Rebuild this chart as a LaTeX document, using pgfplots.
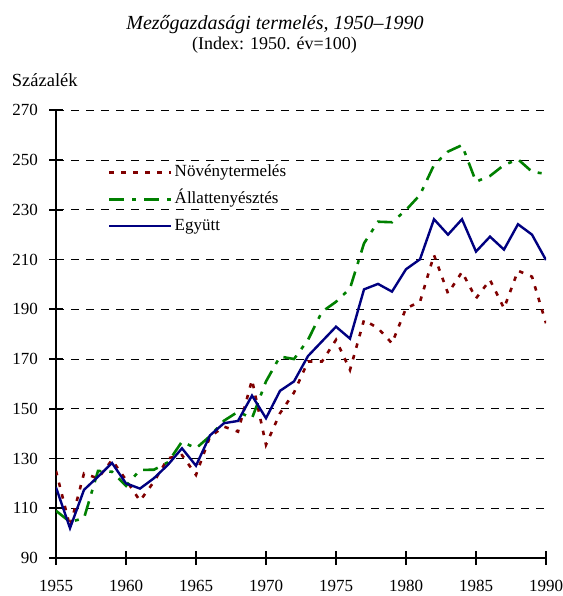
\documentclass[border=0pt]{standalone}
\usepackage{fontspec}
\setmainfont{Liberation Serif}
\usepackage{pgfplots}
\pgfplotsset{compat=1.18}
\usepackage{pgfplotstable}
\definecolor{cred}{RGB}{128,0,0}
\definecolor{cgreen}{RGB}{0,128,0}
\definecolor{cblue}{RGB}{0,0,128}
\pgfplotstableread{
year red green blue
1955 125 109 118.4
1956 102.6 104.5 102
1957 124 106 117.4
1958 122 125 122.7
1959 129.4 124.7 128.2
1960 121.4 119 120
1961 113 125.4 117.9
1962 120.7 125.5 122.1
1963 130.1 128.5 127.5
1964 131.4 136.8 134.1
1965 123.4 134.1 127.1
1966 138.8 139 139.3
1967 142.8 145.2 144.2
1968 140.8 148.8 145.1
1969 161.6 146.2 155.3
1970 135.5 161 146.2
1971 148.2 171 157.2
1972 156.5 170 161
1973 169 177.7 171.2
1974 169 189 177.1
1975 177.7 193 183
1976 165.6 198.4 178.2
1977 185.7 216.5 198
1978 182.4 225.2 200.2
1979 176.3 225 197.1
1980 190.4 229.9 206.1
1981 193 236 210.1
1982 211.8 248 226.2
1983 196.4 253.4 220
1984 205 256 226.2
1985 194.4 241.3 213.2
1986 201.8 243.6 219.2
1987 190.4 248 214
1988 205.5 250.3 224.2
1989 203.1 245.3 220
1990 184.4 244.4 209.8
}\datatable
\begin{document}
\begin{tikzpicture}
\path[use as bounding box] (-56bp,-38bp) rectangle (507bp,558bp);
\begin{axis}[
  at={(0,0)}, anchor=south west,
  scale only axis, width=490bp, height=447.7bp,
  xmin=1955, xmax=1990, ymin=90, ymax=270,
  xtick={1955,1960,...,1990}, ytick={90,110,...,270},
  axis x line=bottom, axis y line=left,
  axis line style={-, line width=1.8bp, black},
  tick align=center, major tick length=14bp,
  major tick style={line width=1.6bp, black},
  ymajorgrids,
  major grid style={line width=0.8bp, black, dash pattern=on 7.5bp off 7.5bp},
  /pgf/number format/assume math mode=true,
  /pgf/number format/set thousands separator={},
  ticklabel style={font=\fontsize{17bp}{20bp}\selectfont},
  yticklabel style={inner sep=0pt, anchor=east, xshift=-11bp},
  xticklabel style={inner sep=0pt, anchor=north, yshift=-15bp},
  legend image code/.code={\draw[#1] (0bp,0bp) -- (62bp,0bp);},
  legend cell align=left,
  legend style={draw=none, fill=none, at={(0.106,0.88)}, anchor=north west,
    font=\fontsize{17bp}{20bp}\selectfont, row sep=11bp, inner sep=0pt,
    nodes={inner sep=0pt, text height=12bp, text depth=4bp},
    /tikz/every odd column/.append style={column sep=2bp}},
]
\addplot[cred, line width=2.6bp, dash pattern=on 4.5bp off 7.5bp] table[x=year, y=red] {\datatable};
\addlegendentry{Növénytermelés}
\addplot[cgreen, line width=2.6bp, dash pattern=on 15bp off 8bp on 4bp off 8bp] table[x=year, y=green] {\datatable};
\addlegendentry{Állattenyésztés}
\addplot[cblue, line width=2.4bp] table[x=year, y=blue] {\datatable};
\addlegendentry{Együtt}
\end{axis}
\node[anchor=base, font=\fontsize{20bp}{24bp}\selectfont\itshape] at (219bp,528bp) {Mezőgazdasági termelés, 1950–1990};
\node[anchor=base, font=\fontsize{18bp}{22bp}\selectfont] at (218.5bp,508bp) {(Index: 1950. év=100)};
\node[anchor=base west, inner sep=0pt, font=\fontsize{18.5bp}{22bp}\selectfont] at (-44.3bp,471bp) {Százalék};
\end{tikzpicture}
\end{document}
